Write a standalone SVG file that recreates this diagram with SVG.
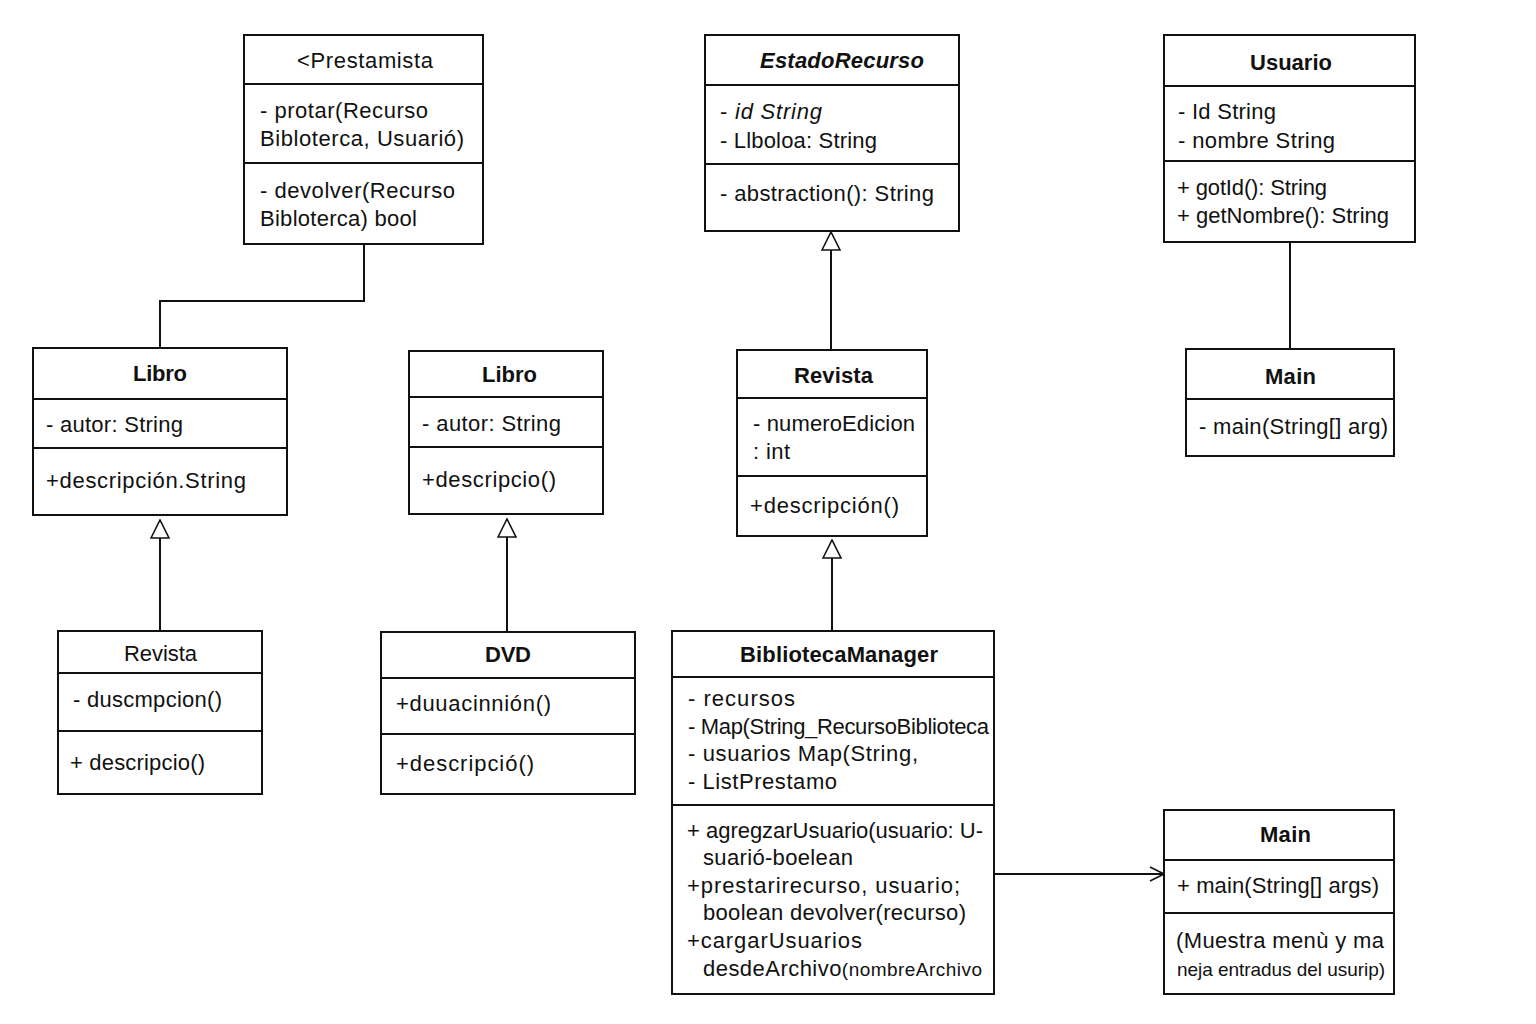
<svg xmlns="http://www.w3.org/2000/svg" width="1536" height="1024" viewBox="0 0 1536 1024">
  <style>
    .box { fill: #ffffff; stroke: #111111; stroke-width: 2; }
    .div { stroke: #111111; stroke-width: 2; }
    .edge { fill: none; stroke: #111111; stroke-width: 2; }
    text { font-family: "Liberation Sans", Arial, Helvetica, sans-serif; font-size: 22px; fill: #111111; }
    .title { font-weight: bold; }
    .abstract { font-weight: bold; font-style: italic; }
    .small { font-size: 19px; }
  </style>
  <defs>
    <!-- hollow triangle for generalization, pointing along the path -->
    <marker id="hollow" viewBox="0 0 20 20" refX="19" refY="10" markerWidth="20" markerHeight="20" markerUnits="userSpaceOnUse" orient="auto">
      <path d="M 1 1 L 19 10 L 1 19 Z" fill="#ffffff" stroke="#111111" stroke-width="1.6"/>
    </marker>
    <!-- open arrowhead for association -->
    <marker id="open" viewBox="0 0 16 16" refX="15" refY="8" markerWidth="16" markerHeight="16" markerUnits="userSpaceOnUse" orient="auto">
      <path d="M 1 1 L 15 8 L 1 15" fill="none" stroke="#111111" stroke-width="1.6"/>
    </marker>
  </defs>
  <rect width="1536" height="1024" fill="#ffffff"/>

  <!-- connectors -->
  <g id="connectors">
    <polyline class="edge" points="364,244 364,301 160,301 160,348"/>
    <line class="edge" x1="160" y1="631" x2="160" y2="520" marker-end="url(#hollow)"/>
    <line class="edge" x1="507" y1="632" x2="507" y2="519" marker-end="url(#hollow)"/>
    <line class="edge" x1="831" y1="350" x2="831" y2="232" marker-end="url(#hollow)"/>
    <line class="edge" x1="832" y1="631" x2="832" y2="540" marker-end="url(#hollow)"/>
    <line class="edge" x1="1290" y1="242" x2="1290" y2="349"/>
    <line class="edge" x1="994" y1="874" x2="1164" y2="874" marker-end="url(#open)"/>
  </g>

  <!-- Prestamista -->
  <g id="prestamista">
    <rect class="box" x="244" y="35" width="239" height="209"/>
    <line class="div" x1="244" y1="84" x2="483" y2="84"/>
    <line class="div" x1="244" y1="163" x2="483" y2="163"/>
    <text x="297" y="68" textLength="136">&lt;Prestamista</text>
    <text x="260" y="118" textLength="168">- protar(Recurso</text>
    <text x="260" y="146" textLength="204">Bibloterca, Usuarió)</text>
    <text x="260" y="198" textLength="195">- devolver(Recurso</text>
    <text x="260" y="226" textLength="157">Bibloterca) bool</text>
  </g>

  <!-- EstadoRecurso -->
  <g id="estado-recurso">
    <rect class="box" x="705" y="35" width="254" height="196"/>
    <line class="div" x1="705" y1="85" x2="959" y2="85"/>
    <line class="div" x1="705" y1="164" x2="959" y2="164"/>
    <text class="abstract" x="760" y="68" textLength="164">EstadoRecurso</text>
    <text x="720" y="119" textLength="102">- <tspan font-style="italic">id String</tspan></text>
    <text x="720" y="148" textLength="157">- Llboloa: String</text>
    <text x="720" y="201" textLength="214">- abstraction(): String</text>
  </g>

  <!-- Usuario -->
  <g id="usuario">
    <rect class="box" x="1164" y="35" width="251" height="207"/>
    <line class="div" x1="1164" y1="86" x2="1415" y2="86"/>
    <line class="div" x1="1164" y1="161" x2="1415" y2="161"/>
    <text class="title" x="1250" y="70" textLength="82">Usuario</text>
    <text x="1178" y="119" textLength="98">- Id String</text>
    <text x="1178" y="148" textLength="157">- nombre String</text>
    <text x="1177" y="195" textLength="150">+ gotId(): String</text>
    <text x="1177" y="223" textLength="212">+ getNombre(): String</text>
  </g>

  <!-- Main (top) -->
  <g id="main-top">
    <rect class="box" x="1186" y="349" width="208" height="107"/>
    <line class="div" x1="1186" y1="399" x2="1394" y2="399"/>
    <text class="title" x="1265" y="384" textLength="51">Main</text>
    <text x="1199" y="434" textLength="189">- main(String[] arg)</text>
  </g>

  <!-- Libro (left) -->
  <g id="libro-left">
    <rect class="box" x="33" y="348" width="254" height="167"/>
    <line class="div" x1="33" y1="399" x2="287" y2="399"/>
    <line class="div" x1="33" y1="448" x2="287" y2="448"/>
    <text class="title" x="133" y="381" textLength="54">Libro</text>
    <text x="46" y="432" textLength="137">- autor: String</text>
    <text x="46" y="488" textLength="200">+descripción.String</text>
  </g>

  <!-- Libro (middle) -->
  <g id="libro-mid">
    <rect class="box" x="409" y="351" width="194" height="163"/>
    <line class="div" x1="409" y1="397" x2="603" y2="397"/>
    <line class="div" x1="409" y1="447" x2="603" y2="447"/>
    <text class="title" x="482" y="382" textLength="55">Libro</text>
    <text x="422" y="431" textLength="139">- autor: String</text>
    <text x="422" y="487" textLength="134">+descripcio()</text>
  </g>

  <!-- Revista (middle) -->
  <g id="revista-mid">
    <rect class="box" x="737" y="350" width="190" height="186"/>
    <line class="div" x1="737" y1="398" x2="927" y2="398"/>
    <line class="div" x1="737" y1="476" x2="927" y2="476"/>
    <text class="title" x="794" y="383" textLength="79">Revista</text>
    <text x="753" y="431" textLength="162">- numeroEdicion</text>
    <text x="753" y="459" textLength="37">: int</text>
    <text x="750" y="513" textLength="149">+descripción()</text>
  </g>

  <!-- Revista (left) -->
  <g id="revista-left">
    <rect class="box" x="58" y="631" width="204" height="163"/>
    <line class="div" x1="58" y1="673" x2="262" y2="673"/>
    <line class="div" x1="58" y1="731" x2="262" y2="731"/>
    <text x="124" y="661" textLength="73">Revista</text>
    <text x="73" y="707" textLength="149">- duscmpcion()</text>
    <text x="70" y="770" textLength="135">+ descripcio()</text>
  </g>

  <!-- DVD -->
  <g id="dvd">
    <rect class="box" x="381" y="632" width="254" height="162"/>
    <line class="div" x1="381" y1="678" x2="635" y2="678"/>
    <line class="div" x1="381" y1="734" x2="635" y2="734"/>
    <text class="title" x="485" y="662" textLength="46">DVD</text>
    <text x="396" y="711" textLength="155">+duuacinnión()</text>
    <text x="396" y="771" textLength="138">+descripció()</text>
  </g>

  <!-- BibliotecaManager -->
  <g id="biblioteca-manager">
    <rect class="box" x="672" y="631" width="322" height="363"/>
    <line class="div" x1="672" y1="677" x2="994" y2="677"/>
    <line class="div" x1="672" y1="805" x2="994" y2="805"/>
    <text class="title" x="740" y="662" textLength="198">BibliotecaManager</text>
    <text x="688" y="706" textLength="107">- recursos</text>
    <text x="688" y="734" textLength="301">- Map(String_RecursoBiblioteca</text>
    <text x="688" y="761" textLength="230">- usuarios Map(String,</text>
    <text x="688" y="789" textLength="149">- ListPrestamo</text>
    <text x="687" y="838" textLength="296">+ agregzarUsuario(usuario: U-</text>
    <text x="703" y="865" textLength="150">suarió-boelean</text>
    <text x="687" y="893" textLength="273">+prestarirecurso, usuario;</text>
    <text x="703" y="920" textLength="263">boolean devolver(recurso)</text>
    <text x="687" y="948" textLength="175">+cargarUsuarios</text>
    <text x="703" y="976" textLength="279">desdeArchivo<tspan class="small">(nombreArchivo</tspan></text>
  </g>

  <!-- Main (bottom) -->
  <g id="main-bottom">
    <rect class="box" x="1164" y="810" width="230" height="184"/>
    <line class="div" x1="1164" y1="860" x2="1394" y2="860"/>
    <line class="div" x1="1164" y1="913" x2="1394" y2="913"/>
    <text class="title" x="1260" y="842" textLength="51">Main</text>
    <text x="1177" y="893" textLength="202">+ main(String[] args)</text>
    <text x="1176" y="948" textLength="208">(Muestra menù y ma</text>
    <text class="small" x="1177" y="976" textLength="208">neja entradus del usurip)</text>
  </g>
</svg>
